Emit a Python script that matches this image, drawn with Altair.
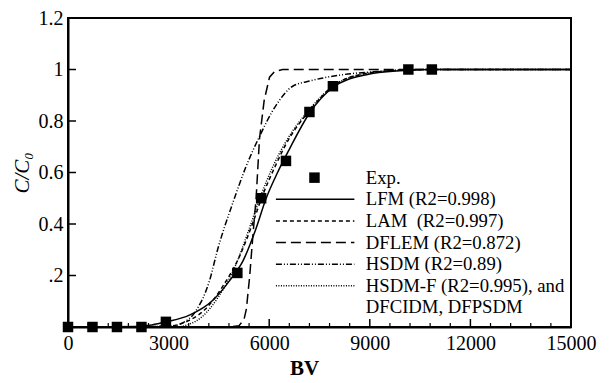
import altair as alt
import pandas as pd

# Experimental data
exp_bv = [0, 730, 1460, 2190, 2920, 5050, 5760, 6500, 7200, 7900, 10150, 10850]
exp_c = [0, 0, 0, 0, 0.02, 0.21, 0.5, 0.645, 0.835, 0.935, 1.0, 1.0]

# Model curves
lfm_bv = [0, 2000, 2500, 2930, 3620, 4320, 4820, 5230, 5600, 5910, 6250, 6600, 7200, 7900, 8900, 9900, 11000, 15000]
lfm_c = [0, 0.002, 0.008, 0.02, 0.046, 0.104, 0.18, 0.26, 0.38, 0.5, 0.6, 0.69, 0.83, 0.93, 0.98, 0.995, 1.0, 1.0]

lam_bv = [0, 3000, 3300, 3600, 4100, 4600, 5100, 5500, 5800, 6200, 6500, 7200, 7900, 8900, 9900, 11000, 15000]
lam_c = [0, 0.003, 0.01, 0.025, 0.07, 0.155, 0.27, 0.4, 0.51, 0.63, 0.71, 0.84, 0.935, 0.985, 0.997, 1.0, 1.0]

dflem_bv = [0, 4800, 5100, 5250, 5320, 5420, 5510, 5610, 5710, 5850, 6010, 6160, 6400, 15000]
dflem_c = [0, 0, 0.005, 0.03, 0.07, 0.2, 0.35, 0.5, 0.73, 0.88, 0.97, 0.992, 1.0, 1.0]

hsdm_bv = [0, 3000, 3400, 3800, 4220, 4460, 4910, 5300, 5710, 6200, 6700, 7200, 8200, 9200, 10500, 15000]
hsdm_c = [0, 0.002, 0.015, 0.06, 0.18, 0.3, 0.48, 0.62, 0.74, 0.86, 0.935, 0.955, 0.98, 0.992, 1.0, 1.0]

hsdmf_bv = [0, 3200, 3600, 4000, 4500, 5000, 5400, 5750, 6100, 6500, 7200, 7900, 8900, 9900, 11000, 15000]
hsdmf_c = [0, 0, 0.01, 0.04, 0.12, 0.24, 0.38, 0.51, 0.62, 0.72, 0.845, 0.935, 0.985, 0.997, 1.0, 1.0]

legend_labels = ["Exp.", "LFM (R2=0.998)", "LAM\u00a0 (R2=0.997)", "DFLEM (R2=0.872)",
                 "HSDM (R2=0.89)", "HSDM-F (R2=0.995), and", "DFCIDM, DFPSDM"]

x_ticks = [0, 3000, 6000, 9000, 12000, 15000]
y_ticks = [0, 0.2, 0.4, 0.6, 0.8, 1.0, 1.2]

FONT = "Liberation Serif"

xs = alt.Scale(domain=[0, 15000], nice=False)
ys = alt.Scale(domain=[0, 1.2], nice=False)

series = [
    ("LFM", lfm_bv, lfm_c, [1, 0], "monotone"),
    ("LAM", lam_bv, lam_c, [4, 3], "monotone"),
    ("DFLEM", dflem_bv, dflem_c, [10, 5], "linear"),
    ("HSDM", hsdm_bv, hsdm_c, [6, 2, 1, 2, 1, 2], "monotone"),
    ("HSDM-F", hsdmf_bv, hsdmf_c, [1, 1.5], "monotone"),
]

layers = []
first = True
for name, bv, c, dash, interp in series:
    df = pd.DataFrame({"BV": bv, "C": c})
    if first:
        xenc = alt.X("BV:Q", scale=xs, axis=alt.Axis(
            values=x_ticks, tickSize=0, grid=False, title="BV", labelPadding=6,
            format="d", labelFlush=False, labelOverlap=False,
            titleFontWeight="bold", titlePadding=4, titleX=236))
        yenc = alt.Y("C:Q", scale=ys, axis=alt.Axis(
            values=y_ticks, tickSize=0, grid=False, title="C/C\u2080",
            titleFontStyle="italic", titleFontWeight="normal", labelPadding=5, titlePadding=6,
            labelFlush=False, labelOverlap=False,
            labelExpr="datum.value == 0 ? '' : datum.value == 0.2 ? '.2' : format(datum.value, '~g')"))
        first = False
    else:
        xenc = alt.X("BV:Q", scale=xs)
        yenc = alt.Y("C:Q", scale=ys)
    mark = dict(color="black", strokeWidth=1.5, interpolate=interp)
    if dash != [1, 0]:
        mark["strokeDash"] = dash
    layers.append(alt.Chart(df).mark_line(**mark).encode(x=xenc, y=yenc))

exp_df = pd.DataFrame({"BV": exp_bv, "C": exp_c})
layers.append(alt.Chart(exp_df).mark_point(shape="square", filled=True, size=110, color="black", opacity=1)
              .encode(x=alt.X("BV:Q", scale=xs), y=alt.Y("C:Q", scale=ys)))

# inward ticks
major_df = pd.DataFrame({"t": list(range(0, 15001, 3000))})
minor_df = pd.DataFrame({"t": [v for v in range(0, 15001, 600) if v % 3000 != 0]})
layers.append(alt.Chart(major_df).mark_rule(color="black", strokeWidth=1.5).encode(
    x=alt.X("t:Q", scale=xs), y=alt.value(309), y2=alt.value(301)))
layers.append(alt.Chart(minor_df).mark_rule(color="black", strokeWidth=1.2).encode(
    x=alt.X("t:Q", scale=xs), y=alt.value(309), y2=alt.value(305)))
ytick_df = pd.DataFrame({"t": y_ticks})
layers.append(alt.Chart(ytick_df).mark_rule(color="black", strokeWidth=1.5).encode(
    y=alt.Y("t:Q", scale=ys), x=alt.value(0), x2=alt.value(8)))

# legend (placed in data coordinates)
row_y0 = 0.58
row_step = 0.084
leg_rows = [row_y0 - i * row_step for i in range(len(legend_labels))]
leg_text = pd.DataFrame({"BV": [8880] * len(legend_labels), "C": leg_rows, "label": legend_labels})
layers.append(alt.Chart(leg_text).mark_text(align="left", baseline="middle", font=FONT, fontSize=18.7,
                                            color="black").encode(
    x=alt.X("BV:Q", scale=xs), y=alt.Y("C:Q", scale=ys), text="label:N"))
layers.append(alt.Chart(pd.DataFrame({"BV": [7350], "C": [leg_rows[0]]})).mark_point(
    shape="square", filled=True, size=110, color="black", opacity=1).encode(
    x=alt.X("BV:Q", scale=xs), y=alt.Y("C:Q", scale=ys)))
for i, (name, bv, c, dash, interp) in enumerate(series):
    ldf = pd.DataFrame({"x1": [6200], "x2": [8540], "y": [leg_rows[i + 1]]})
    mk = dict(color="black", strokeWidth=1.5)
    if dash != [1, 0]:
        mk["strokeDash"] = dash
    layers.append(alt.Chart(ldf).mark_rule(**mk).encode(
        x=alt.X("x1:Q", scale=xs), x2="x2:Q", y=alt.Y("y:Q", scale=ys)))

chart = alt.layer(*layers).properties(
    width=503, height=309,
    padding={"left": 60, "top": 10, "right": 30, "bottom": 56},
    autosize=alt.AutoSizeParams(type="none"),
).configure_view(stroke="black", strokeWidth=2).configure_axis(
    labelFont=FONT, titleFont=FONT, labelFontSize=20, titleFontSize=21,
    labelColor="black", titleColor="black", domainColor="black", domainWidth=2,
)

chart.save("out.html", embed_options={"renderer": "svg", "actions": False})
